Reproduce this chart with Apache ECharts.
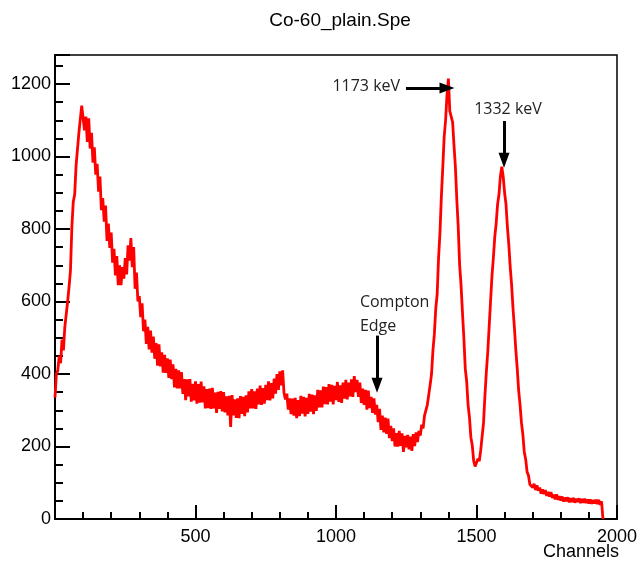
<!DOCTYPE html>
<html>
<head>
<meta charset="utf-8">
<script src="https://cdn.jsdelivr.net/npm/echarts@6/dist/echarts.min.js"></script>
<style>
html,body{margin:0;padding:0;background:#fff;}
#chart{width:640px;height:567px;}
</style>
</head>
<body>
<div id="chart"></div>
<script>
// Spectrum, one value every 5 channels
const binWidth = 5;
const counts = [
335,400,410,450,430,495,465,530,530,600,
640,685,805,875,895,975,970,1065,1070,1140,
1145,1072,1110,1040,1105,1022,1065,983,1025,950,
980,903,945,852,885,820,865,767,815,748,
790,707,745,672,725,645,700,645,695,663,
720,675,755,713,775,695,750,635,680,600,
615,557,595,518,550,483,530,468,520,459,
503,442,485,423,482,421,460,404,453,403,
443,389,440,386,427,363,414,360,410,360,
405,345,386,328,385,338,386,324,373,327,
380,318,372,321,379,322,366,305,358,306,
360,304,362,305,349,293,351,304,353,297,
350,294,338,286,340,254,342,286,330,279,
333,278,339,290,337,284,341,294,352,305,
358,305,352,304,360,316,368,315,361,318,
370,328,380,327,375,333,387,346,400,356,
407,369,410,348,330,346,302,333,289,332,
285,334,278,328,284,340,291,337,283,334,
290,345,296,343,289,341,298,356,308,355,
308,365,317,364,316,372,324,370,316,367,
328,378,323,369,320,376,332,384,330,376,
338,385,337,394,350,384,337,376,320,360,
315,356,302,354,306,337,293,333,288,315,
267,304,246,285,239,280,235,277,223,257,
215,250,200,237,200,243,202,236,185,229,
198,232,192,227,188,234,201,239,212,243,
230,260,250,285,285,315,320,370,400,465,
510,580,620,720,790,890,970,1055,1100,1170,
1215,1125,1120,1095,1030,970,880,805,700,645,
570,500,415,380,315,280,225,203,160,145,
140,166,160,190,185,265,340,405,460,530,
600,670,720,778,815,868,895,945,972,945,
900,868,805,757,695,645,580,527,465,415,
355,315,265,233,185,165,130,120,95,100,
87,97,80,93,78,87,70,82,69,80,
64,75,62,74,58,67,54,68,53,63,
51,62,48,59,49,60,46,57,47,58,
45,56,47,57,44,55,45,56,44,54,
43,54,42,52,43,53,41,53,39,49,
0
];
const channels = counts.map((_, i) => i * binWidth);

const titleText = 'Co-60_plain.Spe';
const xAxisName = 'Channels';
const xTicks = [0, 2000, 500];   // min, max, interval
const yTicks = [0, 1280, 200];

// annotations in data coordinates
const arrows = [
  {from: [1249, 1189], to: [1395, 1189]},
  {from: [1598, 1098], to: [1598, 990]},
  {from: [1146, 506], to: [1146, 369]}
];
const notes = [
  {text: '1173 keV', at: [1228, 1192], align: 'right'},
  {text: '1332 keV', at: [1612, 1131], align: 'center'},
  {text: 'Compton', at: [1085, 597], align: 'left'},
  {text: 'Edge', at: [1085, 531], align: 'left'}
];

const chart = echarts.init(document.getElementById('chart'), null, {renderer: 'canvas'});
const font = 'Liberation Sans, Arial, Helvetica, sans-serif';

const option = {
  backgroundColor: '#fff',
  animation: false,
  title: {
    text: titleText,
    left: 335, top: 6, textAlign: 'center',
    textStyle: {fontFamily: font, fontSize: 19, fontWeight: 'normal', color: '#000'}
  },
  grid: {left: 55, right: 23, top: 55, bottom: 48, containLabel: false, outerBoundsMode: 'none',
    show: true, borderColor: '#000', borderWidth: 1.5, backgroundColor: 'transparent'},
  xAxis: {
    type: 'value', min: xTicks[0], max: xTicks[1], interval: xTicks[2],
    axisLine: {show: true, onZero: false, lineStyle: {color: '#000', width: 2}},
    axisTick: {show: true, inside: true, length: 14, lineStyle: {color: '#000', width: 2}},
    minorTick: {show: true, splitNumber: 5, length: 7, lineStyle: {color: '#000', width: 2}},
    axisLabel: {showMinLabel: false, fontFamily: font, fontSize: 18, color: '#000', margin: 9, formatter: v => String(v)},
    splitLine: {show: false}, minorSplitLine: {show: false}
  },
  yAxis: {
    type: 'value', min: yTicks[0], max: yTicks[1], interval: yTicks[2],
    axisLine: {show: true, lineStyle: {color: '#000', width: 2}},
    axisTick: {show: true, inside: true, length: 15, lineStyle: {color: '#000', width: 2}},
    minorTick: {show: true, splitNumber: 4, length: 8, lineStyle: {color: '#000', width: 2}},
    axisLabel: {showMaxLabel: false, fontFamily: font, fontSize: 18, color: '#000', margin: 4, formatter: v => String(v)},
    splitLine: {show: false}, minorSplitLine: {show: false}
  },
  series: [{
    type: 'line',
    data: channels.map((c, i) => [c, counts[i]]),
    showSymbol: false,
    lineStyle: {color: '#ff0000', width: 2.8},
    itemStyle: {color: '#ff0000'},
    markLine: {
      silent: true,
      symbol: ['none', 'triangle'],
      symbolSize: [11, 15],
      label: {show: false},
      lineStyle: {color: '#000', width: 3, type: 'solid'},
      itemStyle: {color: '#000'},
      data: arrows.map(a => [{coord: a.from}, {coord: a.to}])
    }
  }]
};
chart.setOption(option);

const graphics = notes.map(n => {
  const p = chart.convertToPixel({gridIndex: 0}, n.at);
  return {
    type: 'text', x: p[0], y: p[1],
    style: {text: n.text, fontFamily: 'Open Sans, DejaVu Sans, sans-serif', fontSize: 16, fill: '#222', align: n.align, verticalAlign: 'middle'}
  };
});
const xEnd = chart.convertToPixel({gridIndex: 0}, [xTicks[1], yTicks[0]]);
graphics.push({
  type: 'text', x: xEnd[0] + 2, y: xEnd[1] + 33,
  style: {text: xAxisName, fontFamily: font, fontSize: 18, fill: '#000', align: 'right', verticalAlign: 'middle'}
});
chart.setOption({graphic: graphics});
</script>
</body>
</html>
